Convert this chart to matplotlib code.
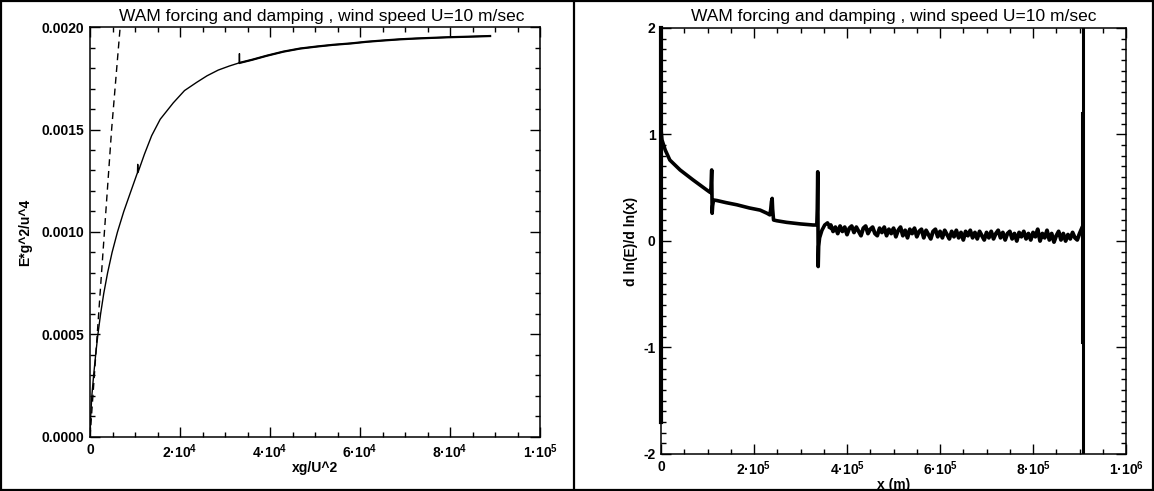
import numpy as np
import matplotlib; matplotlib.use("Agg")
import matplotlib.pyplot as plt
from matplotlib.ticker import MultipleLocator, FuncFormatter
from matplotlib.patches import Rectangle
from matplotlib.lines import Line2D

plt.rcParams["font.family"] = ["Liberation Sans", "DejaVu Sans"]
plt.rcParams["mathtext.fontset"] = "custom"
plt.rcParams["mathtext.rm"] = "Liberation Sans:bold"
plt.rcParams["mathtext.it"] = "Liberation Sans:bold"
plt.rcParams["mathtext.bf"] = "Liberation Sans:bold"
plt.rcParams["axes.unicode_minus"] = False

TITLE = "WAM forcing and damping , wind speed U=10 m/sec"

# ---- left panel: nondimensional energy vs fetch
fetch_nd = [0, 150, 400, 800, 1250, 1750, 2350, 3050, 3900, 4900, 6100, 7500, 9100,
            10550, 10600, 10650, 12100, 13700, 15600, 18500, 21000, 23700, 26000,
            28500, 31000, 33150, 33200, 33250, 36000, 39300, 43000, 46700, 50500,
            54000, 58000, 61500, 65000, 68900, 72500, 76000, 79500, 83000, 86000, 88900]
energy_nd = [0.0, 0.0001, 0.0002, 0.0003, 0.0004, 0.0005, 0.0006, 0.0007, 0.0008,
             0.0009, 0.001, 0.0011, 0.0012, 0.00129, 0.00133, 0.00129, 0.00138,
             0.00147, 0.00155, 0.00163, 0.00169, 0.00173, 0.001762, 0.00179, 0.00181,
             0.001825, 0.00187, 0.001825, 0.00184, 0.00186, 0.00188, 0.001895,
             0.001905, 0.001913, 0.00192, 0.001928, 0.001934, 0.00194, 0.001944,
             0.001947, 0.00195, 0.001952, 0.001954, 0.001956]
# dashed reference growth line
ref_fetch = [0, 1600, 3200, 4800, 6700]
ref_energy = [0.0, 0.0005, 0.001, 0.0015, 0.002]

# ---- right panel: d ln(E)/d ln(x) vs x (m)
x_smooth = [0, 2e3, 9e3, 19e3, 41e3, 69e3, 98e3, 106e3, 107.5e3, 108e3, 108.5e3, 109e3,
            110e3, 111e3, 113e3, 120e3, 140e3, 163e3, 190e3, 213e3, 228e3, 234e3, 236e3,
            237.5e3, 239e3, 240e3, 242e3, 249e3, 270e3, 300e3, 327e3, 335e3, 336e3,
            337e3, 338e3, 339e3, 341e3, 346e3, 352e3, 358e3, 363e3]
dlog_smooth = [1.05, 0.95, 0.855, 0.76, 0.667, 0.573, 0.48, 0.455, 0.50, 0.56, 0.62, 0.667,
               0.26, 0.33, 0.385, 0.38, 0.36, 0.34, 0.31, 0.29, 0.26, 0.245, 0.30, 0.37,
               0.40, 0.30, 0.197, 0.19, 0.175, 0.16, 0.15, 0.15, 0.30, 0.65, -0.24, -0.05,
               0.03, 0.10, 0.15, 0.17, 0.13]
x_noisy = np.arange(365e3, 905e3 + 1, 5e3)
dlog_noisy = [0.15, 0.09, 0.13, 0.07, 0.14, 0.09, 0.13, 0.06, 0.12, 0.14,
              0.08, 0.13, 0.09, 0.05, 0.12, 0.14, 0.07, 0.11, 0.13, 0.07,
              0.05, 0.12, 0.08, 0.13, 0.05, 0.11, 0.07, 0.12, 0.04, 0.10,
              0.13, 0.05, 0.10, 0.03, 0.11, 0.07, 0.12, 0.04, 0.09, 0.11,
              0.03, 0.10, 0.06, 0.02, 0.09, 0.11, 0.04, 0.09, 0.03, 0.10,
              0.06, 0.02, 0.09, 0.04, 0.10, 0.03, 0.08, 0.01, 0.09, 0.05,
              0.10, 0.03, 0.08, 0.02, 0.09, 0.05, 0.01, 0.08, 0.03, 0.09,
              0.02, 0.07, 0.10, 0.03, 0.08, 0.01, 0.07, 0.09, 0.02, 0.07,
              0.00, 0.08, 0.04, 0.09, 0.02, 0.07, 0.01, 0.08, 0.04, 0.11,
              0.00, 0.07, 0.03, 0.10, 0.01, 0.07, -0.01, 0.05, 0.09, 0.01,
              0.07, 0.00, 0.06, 0.02, 0.08, 0.03, 0.01, 0.07, 0.12]
edge_x = [0, 0];        edge_y = [-1.7, 2.0]
wall_x = [907e3, 907e3]; wall_y = [-2.0, 2.0]
wall2_x = [906e3, 906e3]; wall2_y = [-0.95, 1.2]


def pow_fmt(v, pos):
    if v < 1e-9: return "0" if abs(v) < 1e-9 else ""
    e = int(np.floor(np.log10(v) + 1e-9)); m = v / 10 ** e
    return f"{m:g}·10$^{{{e}}}$"

def style_axes(ax, xmaj, xmin, ymaj, ymin):
    ax.xaxis.set_major_locator(MultipleLocator(xmaj)); ax.xaxis.set_minor_locator(MultipleLocator(xmin))
    ax.yaxis.set_major_locator(MultipleLocator(ymaj)); ax.yaxis.set_minor_locator(MultipleLocator(ymin))
    ax.xaxis.set_major_formatter(FuncFormatter(pow_fmt))
    ax.tick_params(which="both", direction="in", top=True, right=True, width=1.0)
    ax.tick_params(which="major", length=7.5, labelsize=10, pad=4)
    ax.tick_params(which="minor", length=3.8)
    for s in ax.spines.values(): s.set_linewidth(1.1)


fig = plt.figure(figsize=(11.54, 4.91), dpi=100)

ax1 = fig.add_axes([0.078, 0.110, 0.390, 0.835])
ax1.plot(fetch_nd, energy_nd, color="black", lw=1.0)
ax1.plot(fetch_nd[27:], energy_nd[27:], color="black", lw=1.6)
ax1.plot(ref_fetch, ref_energy, color="black", lw=1.0, dashes=(5, 3.5))
ax1.set_xlim(0, 1e5); ax1.set_ylim(0, 0.002)
style_axes(ax1, 2e4, 5e3, 0.0005, 0.0001)
ax1.yaxis.set_major_formatter(FuncFormatter(lambda v, p: f"{v:.4f}"))
ax1.set_xlabel("xg/U^2", fontsize=10, fontweight="bold", labelpad=0)
ax1.set_ylabel("E*g^2/u^4", fontsize=10, fontweight="bold", labelpad=7)

ax2 = fig.add_axes([0.5728, 0.0754, 0.403, 0.8676])
ax2.plot(edge_x, edge_y, color="black", lw=3.0, clip_on=False)
ax2.plot(x_smooth, dlog_smooth, color="black", lw=2.6)
ax2.plot(np.r_[x_smooth[-1], x_noisy], np.r_[dlog_smooth[-1], dlog_noisy], color="black", lw=2.8)
ax2.plot(wall_x, wall_y, color="black", lw=2.2)
ax2.plot(wall2_x, wall2_y, color="black", lw=2.2)
ax2.set_xlim(0, 1e6); ax2.set_ylim(-2, 2)
style_axes(ax2, 2e5, 5e4, 1, 0.1)
ax2.yaxis.set_major_formatter(FuncFormatter(lambda v, p: f"{v:g}"))
ax2.set_xlabel("x (m)", fontsize=10, fontweight="bold", labelpad=0)
ax2.set_ylabel("d ln(E)/d ln(x)", fontsize=10, fontweight="bold", labelpad=4)

for ax in (ax1, ax2):
    for lab in ax.get_xticklabels() + ax.get_yticklabels(): lab.set_fontweight("bold")

fig.text(0.279, 1 - 21 / 491, TITLE, ha="center", va="baseline", fontsize=12.5)
fig.text(0.7745, 1 - 21 / 491, TITLE, ha="center", va="baseline", fontsize=12.5)

fig.add_artist(Rectangle((0.0009, 0.002), 0.9982, 0.996, transform=fig.transFigure,
                         fill=False, lw=1.6, color="black"))
fig.add_artist(Line2D([0.4975, 0.4975], [0, 1], transform=fig.transFigure, lw=1.6, color="black"))

fig.savefig("out.png", dpi=100)
